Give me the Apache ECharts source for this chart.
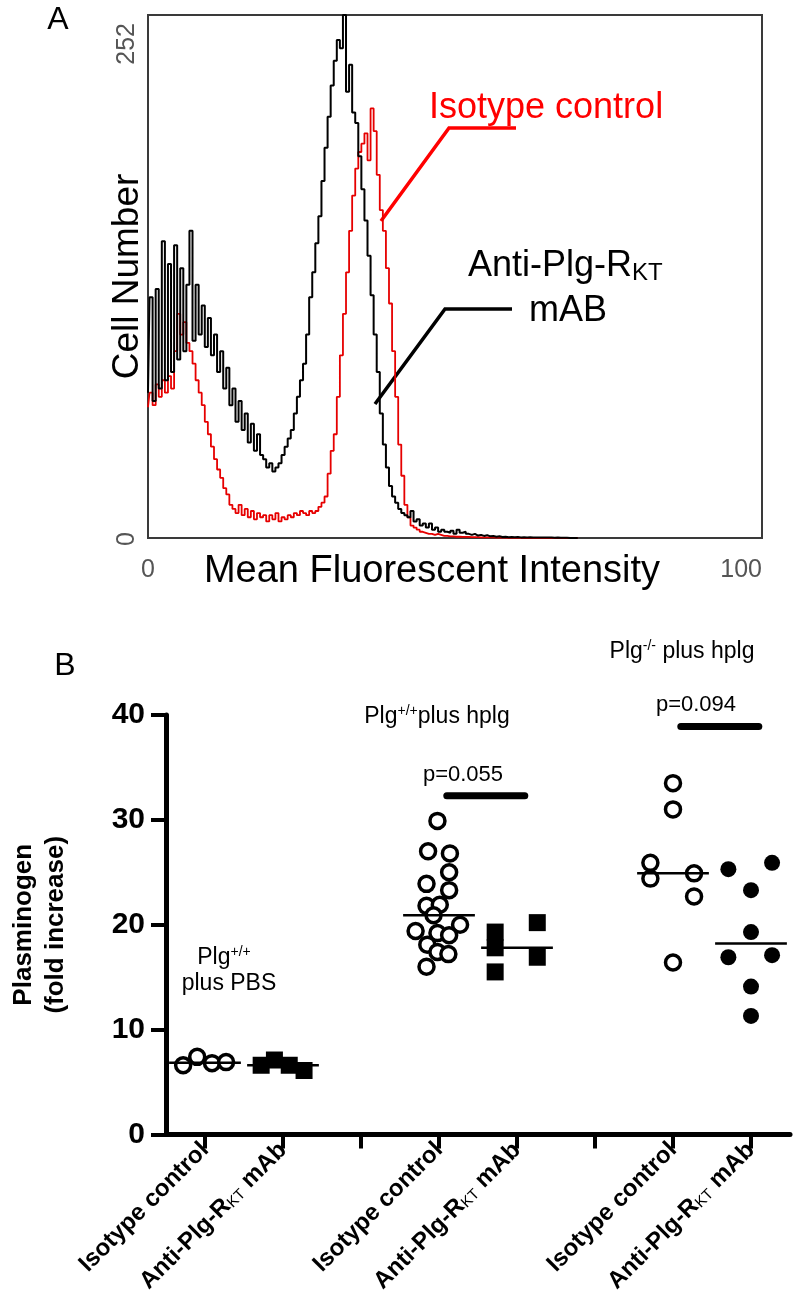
<!DOCTYPE html>
<html><head><meta charset="utf-8">
<script src="https://cdn.jsdelivr.net/npm/echarts@6/dist/echarts.min.js"></script>
<style>html,body{margin:0;padding:0;background:#fff}#c{width:796px;height:1296px}</style>
</head><body><div id="c"></div>
<script>
// ---------- Panel A: flow cytometry histograms (0.5-unit MFI bins) ----------
const binWidth = 0.5;
const cellsAnti = [ // black, Anti-Plg-RKT mAB
  70,116,66,120,72,143,76,132,80,141,
  86,130,90,122,148,95,122,98,112,92,
  106,88,98,80,90,72,82,64,72,56,
  66,52,60,46,55,42,50,40,38,34,
  36,32,34,36,40,44,48,52,60,68,
  76,84,98,116,128,142,155,172,188,203,
  218,230,240,236,252,215,228,205,200,184,
  168,153,136,117,98,80,60,45,34,25,
  20,17,14,12,11,10,13,8,9,6,
  7,5,7,4,5,3,4,3,2.5,3.5,
  2,4,2.5,3,2,1.5,2,1.2,1.5,1,
  1.4,0.8,1,0.6,0.8,0.5,0.6,0.4,0.5,0.4,
  0.5,0.3,0.4,0.3,0.4,0.3,0.3,0.2,0.3,0.2,
  0.2,0.2,0.1,0.2,0.1,0.1,0.1,0,0,0,
  0];
const cellsIso = [ // red, isotype control
  63,70,64,74,68,76,70,78,72,90,
  108,98,104,94,90,84,76,70,64,56,
  50,44,38,33,29,24,21,16,14,12,
  16,11,14,10,13,9,12,10,11,8,
  11,9,12,8,10,9,11,10,12,11,
  13,12,11,13,12,13,15,17,20,31,
  42,50,68,88,108,128,148,165,178,186,
  190,195,182,207,196,175,158,148,130,113,
  90,68,45,30,16,10,6,5,4,3,
  2.5,2,2,1.5,2,1.5,1,1,0.8,0.8,
  0.6,0.6,0.5,0.5,0.5,0.4,0.4,0.4,0.3,0.3,
  0.3,0.3,0.3,0.2,0.2,0.2,0.2,0.1,0.1,0.1,
  0.1,0.1,0,0,0,0,0,0,0,0,
  0,0,0,0,0,0,0,0,0,0,
  0];
const histX = cellsAnti.map((_, i) => i * binWidth);
const mfiTicks = [0, 100];
const cellTicks = [0, 252];

// ---------- Panel B: plasminogen fold increase ----------
const catKeys = ['iso1','anti1','gap1','iso2','anti2','gap2','iso3','anti3'];
const pbsIso   = [6.6, 7.4, 6.8, 6.9];
const pbsAnti  = [6.6, 7.1, 6.6, 6.1];
const hplgIso  = [29.9, 27.0, 26.8, 25.0, 23.9, 23.3, 21.8, 21.9, 20.9, 20.0, 19.4, 19.2, 19.0, 18.1, 17.4, 17.2, 16.0];
const hplgAnti = [19.3, 17.8, 15.5, 20.2, 16.9];
const nullIso  = [33.5, 31.0, 25.9, 24.4, 24.9, 22.7, 16.4];
const nullAnti = [25.3, 25.9, 23.3, 19.3, 16.9, 17.1, 14.1, 11.3];
// horizontal jitter (category units) of each point
const pbsIsoJit   = [-0.28, -0.10, 0.09, 0.27];
const pbsAntiJit  = [-0.28, -0.11, 0.08, 0.27];
const hplgIsoJit  = [-0.02, -0.14, 0.14, 0.13, -0.16, 0.13, -0.16, 0.01, -0.07, 0.27, -0.30, -0.02, 0.13, -0.15, -0.02, 0.12, -0.16];
const hplgAntiJit = [-0.28, -0.28, -0.28, 0.26, 0.26];
const nullIsoJit  = [0, 0, -0.29, -0.29, 0.27, 0.27, 0];
const nullAntiJit = [-0.29, 0.27, 0, 0, -0.29, 0.27, 0, 0];
const yTicksB = [0, 10, 20, 30, 40];
const pValues = [{t:'p=0.055', a:3, b:4, y:32.3}, {t:'p=0.094', a:6, b:7, y:38.9}];

const F = '"Liberation Sans", Arial, Helvetica, sans-serif';
const median = a => { const s = [...a].sort((x, y) => x - y), n = s.length; return n % 2 ? s[(n - 1) / 2] : (s[n / 2 - 1] + s[n / 2]) / 2; };

const groups = [
  {v: pbsIso,  j: pbsIsoJit,  c: 0, k: 'open'},
  {v: pbsAnti, j: pbsAntiJit, c: 1, k: 'square'},
  {v: hplgIso, j: hplgIsoJit, c: 3, k: 'open'},
  {v: hplgAnti,j: hplgAntiJit,c: 4, k: 'square'},
  {v: nullIso, j: nullIsoJit, c: 6, k: 'open'},
  {v: nullAnti,j: nullAntiJit,c: 7, k: 'dot'}
];

const series = [
  {type:'line', xAxisIndex:0, yAxisIndex:0, step:'middle', symbol:'none', animation:false,
   data: histX.map((x, i) => [x, cellsIso[i]]), lineStyle:{color:'#e60000', width:1.8}, z:2},
  {type:'line', xAxisIndex:0, yAxisIndex:0, step:'middle', symbol:'none', animation:false,
   data: histX.map((x, i) => [x, cellsAnti[i]]), lineStyle:{color:'#000', width:2}, z:3}
];
groups.forEach(g => {
  const style = g.k === 'open' ? {symbol:'circle', symbolSize:15, itemStyle:{color:'#fff', borderColor:'#000', borderWidth:3.5, opacity:1}}
              : g.k === 'square' ? {symbol:'rect', symbolSize:17, itemStyle:{color:'#000', opacity:1}}
              : {symbol:'circle', symbolSize:16, itemStyle:{color:'#000', opacity:1}};
  series.push(Object.assign({type:'scatter', xAxisIndex:2, yAxisIndex:1, animation:false, z:3,
    data: g.v.map((y, i) => [g.c + 0.5 + g.j[i], y])}, style));
  const m = median(g.v);
  series.push({type:'line', xAxisIndex:2, yAxisIndex:1, symbol:'none', animation:false, z:4,
    data:[[g.c + 0.04, m], [g.c + 0.96, m]], lineStyle:{color:'#000', width:2.5}});
});
pValues.forEach(p => {
  series.push({type:'line', xAxisIndex:2, yAxisIndex:1, symbol:'none', animation:false, z:4,
    data:[[p.a + 0.6, p.y], [p.b + 0.6, p.y]], lineStyle:{color:'#000', width:7, cap:'round'}});
});

const txt = (text, x, y, size, opts) => ({type:'text', x, y, style: Object.assign({text, font: size + 'px ' + F, fill:'#000', textAlign:'center', textVerticalAlign:'middle'}, opts || {})});

const option = {
  backgroundColor:'#fff',
  animation:false,
  grid:[
    {left:148, top:15, width:614, height:523, show:true, borderColor:'#3a3a3a', borderWidth:2, backgroundColor:'transparent'},
    {left:160, top:715, width:630, height:420}
  ],
  xAxis:[
    {gridIndex:0, type:'value', min:mfiTicks[0], max:mfiTicks[1], interval:100, axisLine:{show:false}, axisTick:{show:false}, splitLine:{show:false},
     axisLabel:{fontSize:25, color:'#555', fontFamily:F, margin:20, showMinLabel:true, showMaxLabel:true, alignMinLabel:'center', alignMaxLabel:'right'},
     name:'Mean Fluorescent Intensity', nameLocation:'middle', nameGap:15, nameMoveOverlap:false,
     nameTextStyle:{fontSize:38, color:'#000', fontFamily:F, verticalAlign:'top', padding:[0,46,0,0]}},
    {gridIndex:1, type:'category', data:catKeys, boundaryGap:true,
     axisLine:{show:true, lineStyle:{color:'#000', width:5}},
     axisTick:{show:true, alignWithLabel:true, interval:0, length:14, lineStyle:{color:'#000', width:4}},
     axisLabel:{interval:0, rotate:45, margin:12,
       formatter: v => v.startsWith('iso') ? '{b|Isotype control}' : v.startsWith('anti') ? '{b|Anti-Plg-R}{s|KT}{b| mAb}' : '',
       rich:{b:{fontSize:24, fontWeight:'bold', fontFamily:F, color:'#000'},
             s:{fontSize:15, fontFamily:F, color:'#000', padding:[8,0,0,0]}}}},
    {gridIndex:1, type:'value', min:0, max:8, show:false}
  ],
  yAxis:[
    {gridIndex:0, type:'value', min:cellTicks[0], max:cellTicks[1], interval:252, axisLine:{show:false}, axisTick:{show:false}, splitLine:{show:false},
     axisLabel:{rotate:90, margin:8, showMinLabel:true, showMaxLabel:true, align:'right',
       formatter: v => v === 252 ? '{t|252}' : '{z|0}',
       rich:{t:{fontSize:25, color:'#555', fontFamily:F, padding:[0,8,0,0]}, z:{fontSize:25, color:'#555', fontFamily:F, padding:[0,-6,0,0]}}},
     name:'Cell Number', nameLocation:'middle', nameGap:2, nameMoveOverlap:false,
     nameTextStyle:{fontSize:37, color:'#000', fontFamily:F}},
    {gridIndex:1, type:'value', min:yTicksB[0], max:yTicksB[yTicksB.length-1], interval:10,
     axisLine:{show:true, lineStyle:{color:'#000', width:5}},
     axisTick:{show:true, length:15, lineStyle:{color:'#000', width:4}},
     splitLine:{show:false},
     axisLabel:{fontSize:30, fontWeight:'bold', color:'#000', fontFamily:F, margin:21},
     name:'Plasminogen\n(fold increase)', nameLocation:'middle', nameGap:94, nameMoveOverlap:false,
     nameTextStyle:{fontSize:26, fontWeight:'bold', color:'#000', fontFamily:F, lineHeight:32}}
  ],
  series,
  graphic:[
    txt('A', 58, 20, 32),
    txt('B', 65, 666, 32),
    txt('Isotype control', 429, 108, 36, {fill:'#ff0000', textAlign:'left'}),
    {type:'polyline', shape:{points:[[516,128],[449,128],[381,221]]}, style:{stroke:'#ff0000', lineWidth:3.5, fill:null}},
    {type:'text', x:468, y:266, style:{text:'{a|Anti-Plg-R}{s|KT}', textAlign:'left', textVerticalAlign:'middle',
      rich:{a:{font:'36px ' + F, fill:'#000'}, s:{font:'24px ' + F, fill:'#000', padding:[14,0,0,0]}}}},
    txt('mAB', 568, 311, 36),
    {type:'polyline', shape:{points:[[512,309],[445,309],[375,404]]}, style:{stroke:'#000', lineWidth:3.5, fill:null}},
    txt('p=0.055', 463, 775, 22),
    txt('p=0.094', 696, 705, 22),
    {type:'text', x:437, y:717, style:{text:'{a|Plg}{s|+/+}{a|plus hplg}', textAlign:'center', textVerticalAlign:'middle',
      rich:{a:{font:'23px ' + F, fill:'#000'}, s:{font:'14px ' + F, fill:'#000', padding:[0,0,12,0]}}}},
    {type:'text', x:682, y:652, style:{text:'{a|Plg}{s|-/-}{a| plus hplg}', textAlign:'center', textVerticalAlign:'middle',
      rich:{a:{font:'23px ' + F, fill:'#000'}, s:{font:'14px ' + F, fill:'#000', padding:[0,0,12,0]}}}},
    {type:'text', x:224, y:958, style:{text:'{a|Plg}{s|+/+}', textAlign:'center', textVerticalAlign:'middle',
      rich:{a:{font:'23px ' + F, fill:'#000'}, s:{font:'14px ' + F, fill:'#000', padding:[0,0,12,0]}}}},
    txt('plus PBS', 229, 984, 23)
  ]
};
const chart = echarts.init(document.getElementById('c'), null, {renderer:'canvas', width:796, height:1296});
chart.setOption(option);
</script>
</body></html>
